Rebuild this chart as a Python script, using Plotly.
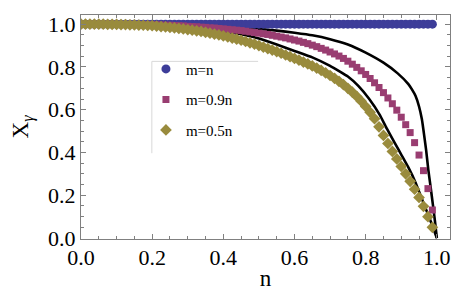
import plotly.graph_objects as go

# sample grid (n) for the point series
n_pts = [0.0, 0.0125, 0.025, 0.0375, 0.05, 0.0625, 0.075, 0.0875, 0.1, 0.1125,
         0.125, 0.1375, 0.15, 0.1625, 0.175, 0.1875, 0.2, 0.2125, 0.225, 0.2375,
         0.25, 0.2625, 0.275, 0.2875, 0.3, 0.3125, 0.325, 0.3375, 0.35, 0.3625,
         0.375, 0.3875, 0.4, 0.4125, 0.425, 0.4375, 0.45, 0.4625, 0.475, 0.4875,
         0.5, 0.5125, 0.525, 0.5375, 0.55, 0.5625, 0.575, 0.5875, 0.6, 0.6125,
         0.625, 0.6375, 0.65, 0.6625, 0.675, 0.6875, 0.7, 0.7125, 0.725, 0.7375,
         0.75, 0.7625, 0.775, 0.7875, 0.8, 0.8125, 0.825, 0.8375, 0.85, 0.8625,
         0.875, 0.8875, 0.9, 0.9125, 0.925, 0.9375, 0.95, 0.9625, 0.975, 0.9875]

x_m_n = [1.0, 1.0, 1.0, 1.0, 1.0, 1.0, 1.0, 1.0, 1.0, 1.0,
         1.0, 1.0, 1.0, 1.0, 1.0, 1.0, 1.0, 1.0, 1.0, 1.0,
         1.0, 1.0, 1.0, 1.0, 1.0, 1.0, 1.0, 1.0, 1.0, 1.0,
         1.0, 1.0, 1.0, 1.0, 1.0, 1.0, 1.0, 1.0, 1.0, 1.0,
         1.0, 1.0, 1.0, 1.0, 1.0, 1.0, 1.0, 1.0, 1.0, 1.0,
         1.0, 1.0, 1.0, 1.0, 1.0, 1.0, 1.0, 1.0, 1.0, 1.0,
         1.0, 1.0, 1.0, 1.0, 1.0, 1.0, 1.0, 1.0, 1.0, 1.0,
         1.0, 1.0, 1.0, 1.0, 1.0, 1.0, 1.0, 1.0, 1.0, 1.0]

x_m_09n = [1.000, 1.000, 1.000, 1.000, 1.000, 1.000, 1.000, 1.000, 0.999, 0.999,
           0.999, 0.999, 0.999, 0.998, 0.998, 0.998, 0.997, 0.997, 0.996, 0.995,
           0.995, 0.994, 0.993, 0.992, 0.990, 0.989, 0.988, 0.986, 0.985, 0.983,
           0.982, 0.980, 0.978, 0.976, 0.974, 0.972, 0.970, 0.967, 0.964, 0.961,
           0.958, 0.955, 0.952, 0.948, 0.944, 0.940, 0.936, 0.931, 0.926, 0.921,
           0.915, 0.909, 0.902, 0.895, 0.887, 0.879, 0.870, 0.861, 0.851, 0.840,
           0.827, 0.813, 0.798, 0.782, 0.765, 0.746, 0.726, 0.704, 0.680, 0.655,
           0.628, 0.598, 0.565, 0.530, 0.493, 0.446, 0.388, 0.315, 0.231, 0.131]

x_m_05n = [1.000, 1.000, 1.000, 1.000, 1.000, 1.000, 0.999, 0.999, 0.999, 0.998,
           0.998, 0.997, 0.997, 0.996, 0.995, 0.994, 0.993, 0.991, 0.989, 0.987,
           0.985, 0.983, 0.980, 0.978, 0.975, 0.972, 0.969, 0.966, 0.962, 0.958,
           0.954, 0.950, 0.945, 0.940, 0.935, 0.930, 0.925, 0.919, 0.913, 0.907,
           0.900, 0.893, 0.886, 0.879, 0.872, 0.864, 0.856, 0.848, 0.840, 0.832,
           0.823, 0.814, 0.805, 0.795, 0.784, 0.772, 0.760, 0.747, 0.733, 0.717,
           0.700, 0.682, 0.662, 0.640, 0.615, 0.588, 0.558, 0.520, 0.480, 0.442,
           0.405, 0.370, 0.335, 0.300, 0.265, 0.228, 0.190, 0.148, 0.100, 0.050]

# analytic (solid black) curves
n_curve_09 = [0.0, 0.1, 0.2, 0.3, 0.4, 0.45, 0.5, 0.55, 0.6, 0.65, 0.7, 0.75, 0.8,
              0.85, 0.89, 0.92, 0.93, 0.94, 0.95, 0.958, 0.962, 0.966, 0.97, 0.976,
              0.982, 0.989, 0.995, 1.0]
x_curve_09 = [1.0, 1.0, 0.999, 0.996, 0.99, 0.985, 0.978, 0.97, 0.96, 0.948, 0.93,
              0.905, 0.867, 0.82, 0.77, 0.72, 0.695, 0.665, 0.615, 0.555, 0.51, 0.46,
              0.41, 0.32, 0.245, 0.155, 0.075, 0.0]

n_curve_05 = [0.0, 0.1, 0.2, 0.3, 0.35, 0.4, 0.45, 0.5, 0.55, 0.6, 0.65, 0.7, 0.75,
              0.78, 0.81, 0.84, 0.86, 0.88, 0.9, 0.92, 0.94, 0.96, 0.98, 0.99, 1.0]
x_curve_05 = [1.0, 0.9995, 0.997, 0.988, 0.98, 0.968, 0.953, 0.933, 0.905, 0.875,
              0.845, 0.805, 0.755, 0.71, 0.65, 0.575, 0.51, 0.45, 0.39, 0.33, 0.26,
              0.175, 0.09, 0.045, 0.0]

series_names = ["m=n", "m=0.9n", "m=0.5n"]
series_colors = ["#3d3d99", "#993d71", "#998b3d"]

SERIF = "Liberation Serif"

fig = go.Figure()

for xs, ys in [(n_curve_09, x_curve_09), (n_curve_05, x_curve_05)]:
    fig.add_trace(go.Scatter(x=xs, y=ys, mode="lines", showlegend=False,
                             line=dict(color="black", width=2.6, shape="spline", smoothing=0.3),
                             hoverinfo="skip"))

for name, ys, col, sym, size in zip(series_names, [x_m_n, x_m_09n, x_m_05n], series_colors,
                                    ["circle", "square", "diamond"], [9, 7, 9]):
    fig.add_trace(go.Scatter(x=n_pts, y=ys, mode="markers", name=name, legendgroup=name,
                             marker=dict(symbol=sym, size=size, color=col, line=dict(width=0))))

axis_common = dict(showline=True, linecolor="#808080", linewidth=1.2, mirror="allticks",
                   ticks="inside", ticklen=5, tickwidth=1, tickcolor="#808080",
                   showgrid=False, zeroline=False,
                   tickfont=dict(family=SERIF, size=22, color="black"),
                   minor=dict(ticks="inside", ticklen=3, dtick=0.05, tickcolor="#808080", showgrid=False))

fig.update_xaxes(range=[0, 1.037], dtick=0.2, tickformat=".1f", ticklabelstandoff=-2,
                 title=dict(text="n", font=dict(family=SERIF, size=23, color="black"), standoff=1),
                 **axis_common)
fig.update_yaxes(range=[-0.0046, 1.043], dtick=0.2, tickformat=".1f",
                 title=dict(text="X<sub><i>γ</i></sub>", font=dict(family=SERIF, size=23, color="black"), standoff=19),
                 **axis_common)

# legend frame (top and left edges)
fig.add_shape(type="line", xref="paper", yref="paper", x0=0.192, x1=0.48, y0=0.793, y1=0.793,
              line=dict(color="#d8d8d8", width=1))
fig.add_shape(type="line", xref="paper", yref="paper", x0=0.192, x1=0.192, y0=0.383, y1=0.793,
              line=dict(color="#d8d8d8", width=1))

fig.update_layout(
    width=471, height=293,
    margin=dict(l=73, r=29, t=4, b=62),
    paper_bgcolor="white", plot_bgcolor="white",
    legend=dict(x=0.176, y=0.832, xanchor="left", yanchor="top", bgcolor="rgba(0,0,0,0)",
                font=dict(family=SERIF, size=15, color="black"),
                tracegroupgap=8, traceorder="grouped"),
)

fig.write_html("out.html")
